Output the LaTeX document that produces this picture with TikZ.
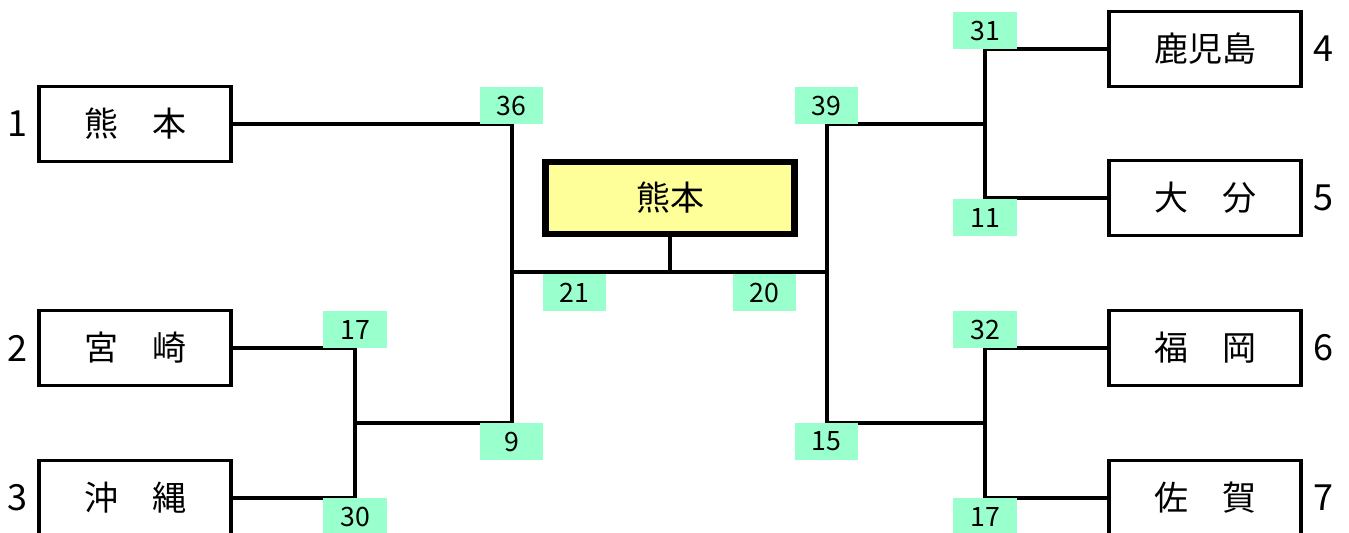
\documentclass[tikz,border=0pt]{standalone}
\usepackage{fontspec}
\setmainfont{Noto Sans CJK JP}
\usepackage{xcolor}
\definecolor{scoregreen}{RGB}{153,255,204}
\definecolor{winyellow}{RGB}{255,255,153}
\definecolor{lineblack}{RGB}{0,0,0}

\begin{document}
\begin{tikzpicture}[x=0.75pt, y=-0.75pt,
    team/.style={draw=lineblack, line width=2.6pt, fill=white, minimum width=144pt, minimum height=56pt, inner sep=0pt, font=\fontsize{25.5}{30}\selectfont},
    champ/.style={draw=lineblack, line width=4.8pt, fill=winyellow, minimum width=187pt, minimum height=54pt, inner sep=0pt, font=\fontsize{25.5}{30}\selectfont},
    score/.style={fill=scoregreen, minimum width=47.5pt, minimum height=28pt, inner sep=0pt, font=\fontsize{20}{22}\selectfont},
    seed/.style={font=\fontsize{27}{30}\selectfont},
    wire/.style={draw=lineblack, line width=2.6pt}]
    \useasboundingbox (0,0) rectangle (1349,532);

    % Teams, left side
    \node[team] (kumamoto) at (135,124) {熊　本};
    \node[team] (miyazaki) at (135,348) {宮　崎};
    \node[team] (okinawa) at (135,498) {沖　縄};
    \node[seed] (s1) at (17,124) {1};
    \node[seed] (s2) at (17,348) {2};
    \node[seed] (s3) at (17,498) {3};

    % Teams, right side
    \node[team] (kagoshima) at (1205,49) {鹿児島};
    \node[team] (oita) at (1205,198) {大　分};
    \node[team] (fukuoka) at (1205,348) {福　岡};
    \node[team] (saga) at (1205,498) {佐　賀};
    \node[seed] (s4) at (1323,49) {4};
    \node[seed] (s5) at (1323,198) {5};
    \node[seed] (s6) at (1323,348) {6};
    \node[seed] (s7) at (1323,498) {7};

    % Winner
    \node[champ] (winner) at (670,198) {熊本};

    % Bracket joints
    \coordinate (l23) at (355,423);
    \coordinate (semiL) at (512,272);
    \coordinate (semiR) at (827,272);
    \coordinate (r45) at (985,124);
    \coordinate (r67) at (985,423);

    % Bracket lines
    \draw[wire] (miyazaki.east) -| (l23) |- (okinawa.east);
    \draw[wire] (kumamoto.east) -| (semiL) |- (l23);
    \draw[wire] (kagoshima.west) -| (r45) |- (oita.west);
    \draw[wire] (fukuoka.west) -| (r67) |- (saga.west);
    \draw[wire] (r45) -| (semiR) |- (r67);
    \draw[wire] (semiL) -- (semiR);
    \draw[wire] (winner.south) -- (winner.south |- semiL);

    % Scores
    \node[score] (sc36) at (511.5,105.5) {36};
    \node[score] (sc9) at (511.5,441.5) {9};
    \node[score] (sc17a) at (355,329.5) {17};
    \node[score] (sc30) at (355,517) {30};
    \node[score] (sc21) at (574.5,292.5) {21};
    \node[score] (sc20) at (764.5,292.5) {20};
    \node[score] (sc39) at (826.5,105.5) {39};
    \node[score] (sc15) at (826.5,441.5) {15};
    \node[score] (sc31) at (985,30.5) {31};
    \node[score] (sc11) at (985,217.5) {11};
    \node[score] (sc32) at (985,329.5) {32};
    \node[score] (sc17b) at (985,517) {17};
\end{tikzpicture}
\end{document}
